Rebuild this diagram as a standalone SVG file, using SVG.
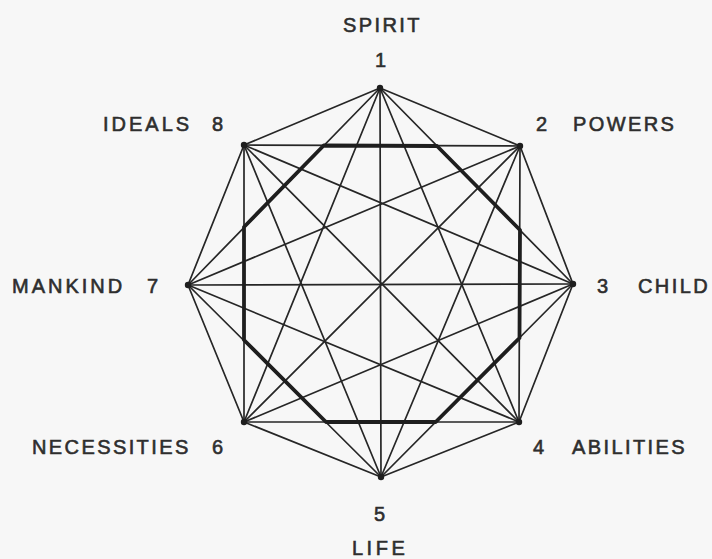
<svg xmlns="http://www.w3.org/2000/svg" width="712" height="559" viewBox="0 0 712 559">
<style>
.bg{fill:#f7f7f7}
.c line{stroke:#262626;stroke-width:1.7;stroke-linecap:round}
.bold{fill:none;stroke:#1e1e1e;stroke-width:3.8;stroke-linejoin:round}
.dot{fill:#1e1e1e}
text{font-family:"Liberation Sans",Arial,sans-serif;font-size:20px;fill:#2e2e2e;stroke:#2e2e2e;stroke-width:0.6px;letter-spacing:2.4px}
</style>
<rect class="bg" x="0" y="0" width="712" height="559"/>
<g id="connectors" class="c">
<line x1="380" y1="88" x2="520" y2="146"/>
<line x1="380" y1="88" x2="573" y2="284"/>
<line x1="380" y1="88" x2="519" y2="422"/>
<line x1="380" y1="88" x2="381" y2="477"/>
<line x1="380" y1="88" x2="244" y2="422"/>
<line x1="380" y1="88" x2="188" y2="285"/>
<line x1="380" y1="88" x2="244" y2="145"/>
<line x1="520" y1="146" x2="573" y2="284"/>
<line x1="520" y1="146" x2="519" y2="422"/>
<line x1="520" y1="146" x2="381" y2="477"/>
<line x1="520" y1="146" x2="244" y2="422"/>
<line x1="520" y1="146" x2="188" y2="285"/>
<line x1="520" y1="146" x2="244" y2="145"/>
<line x1="573" y1="284" x2="519" y2="422"/>
<line x1="573" y1="284" x2="381" y2="477"/>
<line x1="573" y1="284" x2="244" y2="422"/>
<line x1="573" y1="284" x2="188" y2="285"/>
<line x1="573" y1="284" x2="244" y2="145"/>
<line x1="519" y1="422" x2="381" y2="477"/>
<line x1="519" y1="422" x2="244" y2="422"/>
<line x1="519" y1="422" x2="188" y2="285"/>
<line x1="519" y1="422" x2="244" y2="145"/>
<line x1="381" y1="477" x2="244" y2="422"/>
<line x1="381" y1="477" x2="188" y2="285"/>
<line x1="381" y1="477" x2="244" y2="145"/>
<line x1="244" y1="422" x2="188" y2="285"/>
<line x1="244" y1="422" x2="244" y2="145"/>
<line x1="188" y1="285" x2="244" y2="145"/>
<polygon class="bold" points="323.7,145.5 437,146 520,230 519.5,338 435.7,422 326,422 244,340 244,227"/>
</g>
<g id="n1"><circle class="dot" cx="380" cy="88" r="3.2"/><text x="343" y="32">SPIRIT</text><text x="375" y="67">1</text></g>
<g id="n2"><circle class="dot" cx="520" cy="146" r="3.2"/><text x="536" y="131">2</text><text x="573" y="131">POWERS</text></g>
<g id="n3"><circle class="dot" cx="573" cy="284" r="3.2"/><text x="597" y="293">3</text><text x="638" y="293">CHILD</text></g>
<g id="n4"><circle class="dot" cx="519" cy="422" r="3.2"/><text x="533" y="454">4</text><text x="572" y="454">ABILITIES</text></g>
<g id="n5"><circle class="dot" cx="381" cy="477" r="3.2"/><text x="374" y="521">5</text><text x="352" y="555" style="letter-spacing:3.5px">LIFE</text></g>
<g id="n6"><circle class="dot" cx="244" cy="422" r="3.2"/><text x="32" y="454">NECESSITIES</text><text x="212" y="454">6</text></g>
<g id="n7"><circle class="dot" cx="188" cy="285" r="3.2"/><text x="12" y="293" style="letter-spacing:3px">MANKIND</text><text x="147" y="293">7</text></g>
<g id="n8"><circle class="dot" cx="244" cy="145" r="3.2"/><text x="103" y="131" style="letter-spacing:3px">IDEALS</text><text x="212" y="131">8</text></g>
</svg>
